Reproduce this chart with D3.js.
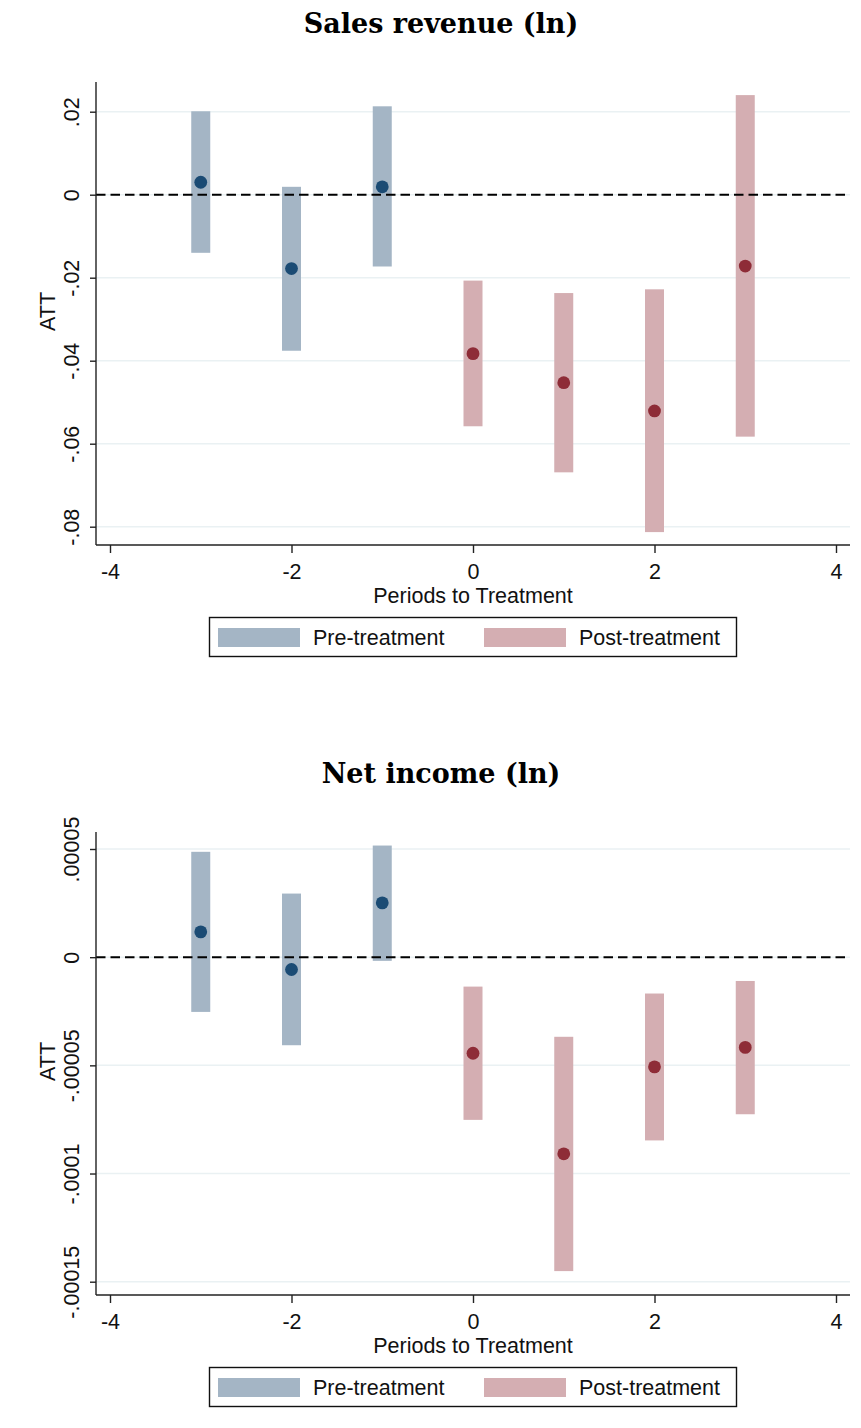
<!DOCTYPE html>
<html>
<head>
<meta charset="utf-8">
<script src="https://cdn.jsdelivr.net/npm/d3@7"></script>
<style>
  html, body { margin: 0; padding: 0; background: #fff; }
  svg { display: block; }
</style>
</head>
<body>
<svg id="chart" width="861" height="1428"></svg>
<script>
// ---------- data ----------
const periods = [-3, -2, -1, 0, 1, 2, 3];
const groups  = ["Pre-treatment", "Pre-treatment", "Pre-treatment", "Post-treatment", "Post-treatment", "Post-treatment", "Post-treatment"];

const salesEst = [0.0030, -0.0178, 0.0019, -0.0383, -0.0453, -0.0521, -0.0172];
const salesLo  = [-0.0140, -0.0376, -0.0173, -0.0558, -0.0669, -0.0813, -0.0583];
const salesHi  = [0.0201, 0.0019, 0.0213, -0.0207, -0.0237, -0.0228, 0.0240];

const netEst = [0.0000117, -0.0000057, 0.0000251, -0.0000444, -0.0000909, -0.0000507, -0.0000417];
const netLo  = [-0.0000253, -0.0000407, -0.0000017, -0.0000752, -0.0001451, -0.0000847, -0.0000726];
const netHi  = [0.0000487, 0.0000294, 0.0000516, -0.0000136, -0.0000368, -0.0000168, -0.0000110];

const salesTicks = [0.02, 0, -0.02, -0.04, -0.06, -0.08];
const salesTickLabels = [".02", "0", "-.02", "-.04", "-.06", "-.08"];
const netTicks = [0.00005, 0, -0.00005, -0.0001, -0.00015];
const netTickLabels = [".00005", "0", "-.00005", "-.0001", "-.00015"];
const xTicks = [-4, -2, 0, 2, 4];
const xTickLabels = ["-4", "-2", "0", "2", "4"];

const legendLabels = ["Pre-treatment", "Post-treatment"];
const titles = ["Sales revenue (ln)", "Net income (ln)"];

// ---------- style ----------
const barColor = { "Pre-treatment": "#a4b5c5", "Post-treatment": "#d4aeb2" };
const dotColor = { "Pre-treatment": "#1b4b74", "Post-treatment": "#8e2c37" };
const sans = "'Liberation Sans', Arial, sans-serif";
const serif = "'DejaVu Serif', serif";
const fs = 21.5;

const svg = d3.select("#chart");

const x = d3.scaleLinear().domain([-4, 4]).range([110, 836]);

function panel(opt) {
  const g = svg.append("g").attr("transform", `translate(0,${opt.dy})`);
  const y = d3.scaleLinear().domain([opt.ticks[opt.ticks.length - 1], opt.ticks[0]]).range([opt.yBottom, opt.yTop]);
  const axisLeft = 96, axisRight = 850, axisTop = 82, axisBottom = 545;

  // title
  g.append("text").attr("x", 441).attr("y", 33)
    .attr("text-anchor", "middle").attr("font-family", serif).attr("font-weight", "bold")
    .attr("font-size", 27).attr("fill", "#000").text(opt.title);

  // gridlines
  g.append("g").selectAll("line").data(opt.ticks).join("line")
    .attr("x1", axisLeft).attr("x2", axisRight)
    .attr("y1", d => y(d)).attr("y2", d => y(d))
    .attr("stroke", "#eaf1f3").attr("stroke-width", 1.5);

  // bars (CI)
  const data = periods.map((p, i) => ({ p, g: groups[i], est: opt.est[i], lo: opt.lo[i], hi: opt.hi[i] }));
  g.append("g").selectAll("rect").data(data).join("rect")
    .attr("x", d => x(d.p) - 9.5).attr("width", 19)
    .attr("y", d => y(d.hi)).attr("height", d => y(d.lo) - y(d.hi))
    .attr("fill", d => barColor[d.g]);

  // zero line
  g.append("line").attr("x1", axisLeft).attr("x2", axisRight)
    .attr("y1", y(0)).attr("y2", y(0))
    .attr("stroke", "#000").attr("stroke-width", 2).attr("stroke-dasharray", "9.5,5");

  // points
  g.append("g").selectAll("circle").data(data).join("circle")
    .attr("cx", d => x(d.p)).attr("cy", d => y(d.est)).attr("r", 6.4)
    .attr("fill", d => dotColor[d.g]);

  // y axis
  const ya = d3.axisLeft(y).tickValues(opt.ticks).tickSize(6).tickFormat((d, i) => opt.tickLabels[i]);
  const yg = g.append("g").attr("transform", `translate(${axisLeft},0)`).call(ya);
  yg.select(".domain").attr("d", `M0,${axisTop}V${axisBottom}`).attr("stroke", "#222").attr("stroke-width", 1.4);
  yg.selectAll(".tick line").attr("stroke", "#222").attr("stroke-width", 1.4);
  yg.selectAll(".tick text")
    .attr("font-family", sans).attr("font-size", fs).attr("fill", "#111")
    .attr("text-anchor", "middle")
    .attr("transform", "rotate(-90)")
    .attr("x", 0).attr("y", -17).attr("dy", 0);

  // y label
  g.append("text").attr("transform", `translate(55,${(axisTop + axisBottom) / 2 - 2}) rotate(-90)`)
    .attr("text-anchor", "middle").attr("font-family", sans).attr("font-size", fs).attr("fill", "#111").text("ATT");

  // x axis
  const xa = d3.axisBottom(x).tickValues(xTicks).tickSize(8).tickFormat((d, i) => xTickLabels[i]);
  const xg = g.append("g").attr("transform", `translate(0,${axisBottom})`).call(xa);
  xg.select(".domain").attr("d", `M${axisLeft},0H${axisRight}`).attr("stroke", "#222").attr("stroke-width", 1.4);
  xg.selectAll(".tick line").attr("stroke", "#222").attr("stroke-width", 1.4);
  xg.selectAll(".tick text").attr("font-family", sans).attr("font-size", fs).attr("fill", "#111")
    .attr("y", 34).attr("dy", 0);

  // x label
  g.append("text").attr("x", 473).attr("y", 603).attr("text-anchor", "middle")
    .attr("font-family", sans).attr("font-size", fs).attr("fill", "#111").text("Periods to Treatment");

  // legend
  const lg = g.append("g");
  lg.append("rect").attr("x", 209.5).attr("y", 617.5).attr("width", 527).attr("height", 39)
    .attr("fill", "#fff").attr("stroke", "#111").attr("stroke-width", 1.4);
  const legX = [218, 484];
  legendLabels.forEach((lab, i) => {
    lg.append("rect").attr("x", legX[i]).attr("y", 628).attr("width", 82).attr("height", 19)
      .attr("fill", barColor[lab]);
    lg.append("text").attr("x", legX[i] + 95).attr("y", 645)
      .attr("font-family", sans).attr("font-size", fs).attr("fill", "#111").text(lab);
  });
}

panel({ dy: 0, title: titles[0], ticks: salesTicks, tickLabels: salesTickLabels,
        yTop: 111.7, yBottom: 526.7, est: salesEst, lo: salesLo, hi: salesHi });
panel({ dy: 750, title: titles[1], ticks: netTicks, tickLabels: netTickLabels,
        yTop: 99, yBottom: 531.7, est: netEst, lo: netLo, hi: netHi });
</script>
</body>
</html>
